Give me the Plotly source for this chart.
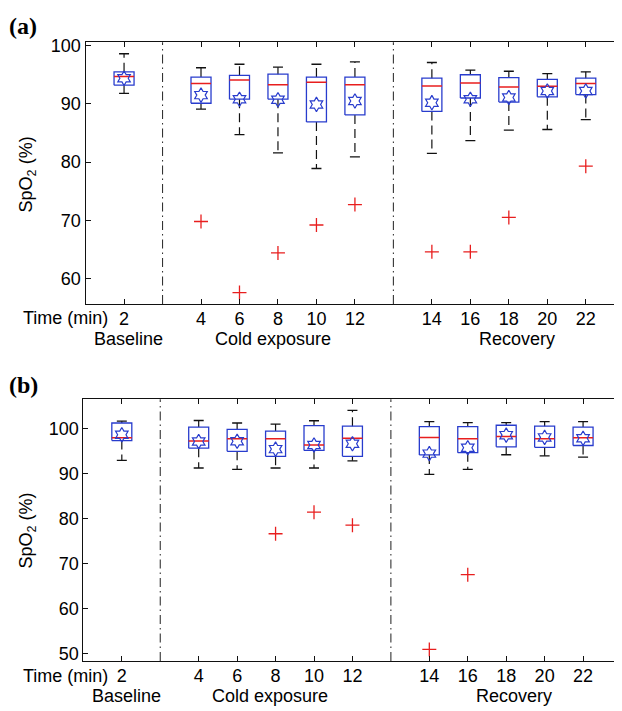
import plotly.graph_objects as go

# ---------------- data ----------------
times = [2, 4, 6, 8, 10, 12, 14, 16, 18, 20, 22]
phase_names = ["Baseline", "Cold exposure", "Recovery"]
phase_sizes = [1, 5, 5]

# Panel (a)
a_upper = [98.6, 96.2, 96.8, 96.3, 96.8, 97.2, 97.1, 95.8, 95.6, 95.2, 95.5]
a_q3 = [95.5, 94.6, 94.9, 95.1, 94.6, 94.6, 94.4, 95.0, 94.5, 94.2, 94.4]
a_median = [94.7, 93.5, 94.1, 93.3, 93.7, 93.3, 93.05, 93.6, 92.9, 93.0, 93.5]
a_q1 = [93.2, 90.1, 90.8, 90.8, 86.9, 88.1, 88.7, 91.0, 90.3, 91.2, 91.6]
a_lower = [91.8, 89.1, 84.7, 81.6, 78.9, 80.9, 81.5, 83.7, 85.5, 85.6, 87.3]
a_mean = [94.4, 91.5, 90.8, 90.7, 89.9, 90.5, 90.2, 90.8, 91.1, 92.2, 92.2]
a_outlier = [None, 69.8, 57.6, 64.4, 69.2, 72.7, 64.6, 64.6, 70.5, None, 79.3]

# Panel (b)
b_upper = [101.6, 101.75, 101.2, 100.95, 101.7, 104.0, 101.5, 101.3, 101.3, 101.5, 101.5]
b_q3 = [101.2, 100.3, 99.8, 99.4, 100.6, 100.5, 100.4, 100.4, 100.7, 100.5, 100.3]
b_median = [97.95, 97.2, 97.7, 97.7, 96.3, 97.8, 98.0, 97.7, 98.2, 97.7, 97.9]
b_q1 = [97.3, 95.6, 94.9, 93.8, 95.1, 93.8, 94.1, 94.6, 95.9, 95.8, 96.2]
b_lower = [92.9, 91.2, 90.9, 91.2, 91.2, 92.8, 89.8, 90.9, 94.15, 93.9, 93.6]
b_mean = [98.6, 97.1, 97.15, 95.4, 96.3, 96.6, 94.4, 95.7, 98.5, 98.0, 97.8]
b_outlier = [None, None, None, 76.6, 81.4, 78.5, 50.9, 67.5, None, None, None]

panel_letters = ["(a)", "(b)"]

# ---------------- layout helpers ----------------
W, H = 622, 711
OFF = 8  # default page margin of the html body
FONT = "Liberation Sans, Arial, Helvetica, sans-serif"
FS = 18
BLUE = "rgb(40,60,205)"
RED = "rgb(232,30,30)"
BLACK = "#111111"


def px_x(x):
    return (x - OFF) / W


def px_y(y):
    return 1 - (y - OFF) / H


# positions of boxes: consecutive within a phase, one empty slot between phases
positions = []
dividers = []
p = 1
for k, n in enumerate(phase_sizes):
    for _ in range(n):
        positions.append(p)
        p += 1
    if k < len(phase_sizes) - 1:
        dividers.append(p)
        p += 1

BOX_HW = 0.26
CAP_HW = 0.13

fig = go.Figure()


def add_panel(xa, ya, upper, q3, med, q1, lower, mean, outl):
    wx, wy, cx, cy, bx, by, mx, my = [], [], [], [], [], [], [], []
    for pos, u, t, m, b, l in zip(positions, upper, q3, med, q1, lower):
        wx += [pos, pos, None, pos, pos, None]
        wy += [t, u, None, b, l, None]
        cx += [pos - CAP_HW, pos + CAP_HW, None, pos - CAP_HW, pos + CAP_HW, None]
        cy += [u, u, None, l, l, None]
        bx += [pos - BOX_HW, pos + BOX_HW, pos + BOX_HW, pos - BOX_HW, pos - BOX_HW, None]
        by += [b, b, t, t, b, None]
        mx += [pos - BOX_HW, pos + BOX_HW, None]
        my += [m, m, None]
    common = dict(xaxis=xa, yaxis=ya, showlegend=False, hoverinfo="skip")
    fig.add_trace(go.Scatter(x=wx, y=wy, mode="lines",
                             line=dict(color=BLACK, width=1.2, dash="9px,5px"), **common))
    fig.add_trace(go.Scatter(x=cx, y=cy, mode="lines",
                             line=dict(color=BLACK, width=1.3), **common))
    fig.add_trace(go.Scatter(x=bx, y=by, mode="lines",
                             line=dict(color=BLUE, width=1.3), **common))
    fig.add_trace(go.Scatter(x=mx, y=my, mode="lines",
                             line=dict(color=RED, width=1.5), **common))
    fig.add_trace(go.Scatter(x=positions, y=mean, mode="markers",
                             marker=dict(symbol="hexagram-open", size=11, color=BLUE,
                                         line=dict(color=BLUE, width=1.2)), **common))
    ox = [pos for pos, o in zip(positions, outl) if o is not None]
    oy = [o for o in outl if o is not None]
    fig.add_trace(go.Scatter(x=ox, y=oy, mode="markers",
                             marker=dict(symbol="cross-thin-open", size=10, color=RED,
                                         line=dict(color=RED, width=1.3)), **common))


add_panel("x", "y", a_upper, a_q3, a_median, a_q1, a_lower, a_mean, a_outlier)
add_panel("x2", "y2", b_upper, b_q3, b_median, b_q1, b_lower, b_mean, b_outlier)

# panel geometry (screen pixels)
A_LEFT, A_TOP, A_BOT, A_UNIT = 85.7, 36.7, 301.7, 38.54
B_LEFT, B_TOP, B_BOT, B_UNIT = 83.5, 398.3, 663.3, 38.5

axis_common = dict(showline=True, linecolor=BLACK, linewidth=1.2, ticks="inside",
                   ticklen=5, tickcolor=BLACK, tickwidth=1, mirror="ticks",
                   showgrid=False, zeroline=False,
                   tickfont=dict(family=FONT, size=FS, color="black"))

tick_text = [str(t) for t in times]

layout = dict(
    width=W, height=H, plot_bgcolor="white", paper_bgcolor="white",
    margin=dict(l=0, r=0, t=0, b=0),
    xaxis=dict(domain=[px_x(A_LEFT), 1], range=[0, (W + OFF - A_LEFT) / A_UNIT],
               tickvals=positions, ticktext=tick_text, anchor="y",
               ticklabelstandoff=-2, **axis_common),
    yaxis=dict(domain=[px_y(A_BOT), px_y(A_TOP)], range=[55.64, 100.56],
               tickvals=[60, 70, 80, 90, 100], anchor="x", **axis_common),
    xaxis2=dict(domain=[px_x(B_LEFT), 1], range=[0, (W + OFF - B_LEFT) / B_UNIT],
                tickvals=positions, ticktext=tick_text, anchor="y2",
                ticklabelstandoff=-2, **axis_common),
    yaxis2=dict(domain=[px_y(B_BOT), px_y(B_TOP)], range=[48.33, 106.45],
                tickvals=[50, 60, 70, 80, 90, 100], anchor="x2", **axis_common),
)
fig.update_layout(**layout)

# phase dividers
for xr, yr in (("x", "y domain"), ("x2", "y2 domain")):
    for d in dividers:
        fig.add_shape(type="line", xref=xr, yref=yr, x0=d, x1=d, y0=0, y1=1,
                      line=dict(color="#333333", width=1.1, dash="9px,4px,1.5px,4px"))

# annotations
phase_label_pos = [1.11, 4.86, 11.2]
for xr, letter, tick_y, phase_y, title_y, letter_y in (
        ("x", panel_letters[0], 316, 337, 170.8, 20),
        ("x2", panel_letters[1], 678, 699, 531.5, 384)):
    fig.add_annotation(text="Time (min)", xref="paper", yref="paper",
                       x=px_x(110), y=px_y(tick_y), xanchor="right", yanchor="middle",
                       showarrow=False, font=dict(family=FONT, size=FS, color="black"))
    for name, pos in zip(phase_names, phase_label_pos):
        fig.add_annotation(text=name, xref=xr, yref="paper", x=pos, y=px_y(phase_y),
                           xanchor="center", yanchor="middle", showarrow=False,
                           font=dict(family=FONT, size=FS, color="black"))
    fig.add_annotation(text="SpO<sub>2</sub> (%)", xref="paper", yref="paper",
                       x=px_x(27.7), y=px_y(title_y), textangle=-90,
                       xanchor="center", yanchor="middle", showarrow=False,
                       font=dict(family=FONT, size=FS, color="black"))
    fig.add_annotation(text="<b>%s</b>" % letter, xref="paper", yref="paper",
                       x=px_x(23.3), y=px_y(letter_y), xanchor="center", yanchor="middle",
                       showarrow=False,
                       font=dict(family="Liberation Serif, Times New Roman, serif",
                                 size=24, color="black"))

fig.write_html("out.html")
